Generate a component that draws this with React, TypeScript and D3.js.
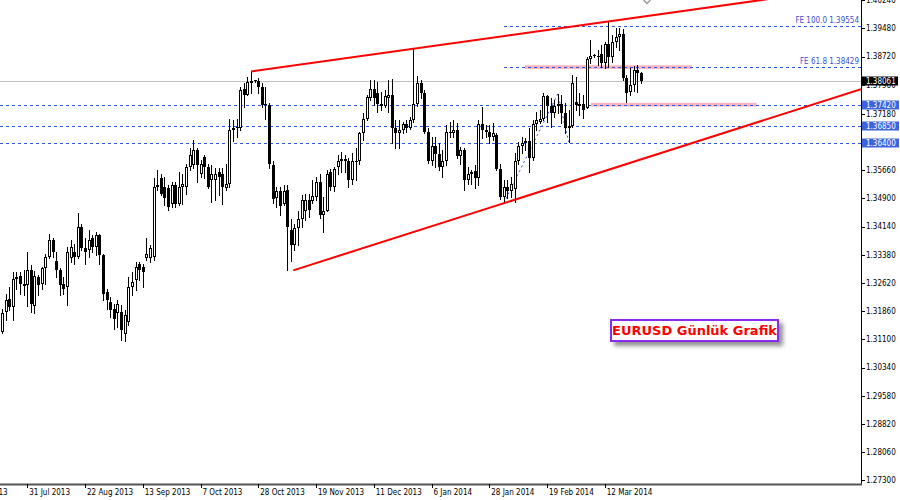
import React from 'react';
import * as d3 from 'd3';

// Daily EURUSD candles [open, high, low, close], bar 0 = 22 Jul 2013
const candles: [number, number, number, number][] = [
  [1.3130, 1.3193, 1.3126, 1.3180], [1.3184, 1.3233, 1.3162, 1.3215], [1.3220, 1.3251, 1.3188, 1.3197],
  [1.3197, 1.3292, 1.3162, 1.3274], [1.3274, 1.3292, 1.3247, 1.3278], [1.3280, 1.3292, 1.3233, 1.3259],
  [1.3258, 1.3296, 1.3229, 1.3255], [1.3257, 1.3345, 1.3200, 1.3297], [1.3297, 1.3310, 1.3185, 1.3205],
  [1.3200, 1.3295, 1.3180, 1.3282], [1.3278, 1.3283, 1.3229, 1.3256], [1.3260, 1.3305, 1.3247, 1.3301],
  [1.3301, 1.3341, 1.3260, 1.3332], [1.3332, 1.3395, 1.3328, 1.3377], [1.3378, 1.3382, 1.3332, 1.3345],
  [1.3322, 1.3345, 1.3278, 1.3297], [1.3298, 1.3301, 1.3229, 1.3256], [1.3260, 1.3278, 1.3233, 1.3247],
  [1.3251, 1.3359, 1.3202, 1.3346], [1.3328, 1.3377, 1.3319, 1.3359], [1.3346, 1.3368, 1.3314, 1.3332],
  [1.3332, 1.3451, 1.3328, 1.3413], [1.3413, 1.3422, 1.3350, 1.3355], [1.3355, 1.3382, 1.3314, 1.3346],
  [1.3350, 1.3404, 1.3332, 1.3377], [1.3382, 1.3391, 1.3346, 1.3359], [1.3359, 1.3400, 1.3337, 1.3391],
  [1.3391, 1.3395, 1.3314, 1.3337], [1.3337, 1.3341, 1.3215, 1.3233], [1.3238, 1.3247, 1.3193, 1.3215],
  [1.3211, 1.3224, 1.3171, 1.3188], [1.3193, 1.3206, 1.3139, 1.3166], [1.3180, 1.3215, 1.3144, 1.3206],
  [1.3184, 1.3202, 1.3108, 1.3135], [1.3125, 1.3190, 1.3105, 1.3175], [1.3157, 1.3278, 1.3148, 1.3251],
  [1.3251, 1.3292, 1.3229, 1.3265], [1.3269, 1.3319, 1.3242, 1.3305], [1.3314, 1.3319, 1.3269, 1.3296],
  [1.3305, 1.3314, 1.3251, 1.3292], [1.3330, 1.3382, 1.3323, 1.3340], [1.3330, 1.3364, 1.3319, 1.3355],
  [1.3333, 1.3544, 1.3323, 1.3521], [1.3521, 1.3566, 1.3512, 1.3526], [1.3546, 1.3557, 1.3499, 1.3503],
  [1.3521, 1.3548, 1.3472, 1.3490], [1.3517, 1.3526, 1.3458, 1.3467], [1.3476, 1.3535, 1.3467, 1.3526],
  [1.3526, 1.3535, 1.3467, 1.3476], [1.3476, 1.3562, 1.3472, 1.3521], [1.3521, 1.3557, 1.3476, 1.3530],
  [1.3521, 1.3584, 1.3503, 1.3575], [1.3575, 1.3625, 1.3566, 1.3607], [1.3580, 1.3647, 1.3571, 1.3620],
  [1.3620, 1.3625, 1.3535, 1.3580], [1.3557, 1.3593, 1.3548, 1.3584], [1.3602, 1.3607, 1.3544, 1.3575],
  [1.3575, 1.3584, 1.3517, 1.3521], [1.3539, 1.3580, 1.3481, 1.3557], [1.3539, 1.3571, 1.3485, 1.3555],
  [1.3562, 1.3571, 1.3499, 1.3548], [1.3557, 1.3571, 1.3476, 1.3521], [1.3517, 1.3584, 1.3512, 1.3530],
  [1.3530, 1.3705, 1.3520, 1.3675], [1.3675, 1.3700, 1.3645, 1.3680], [1.3683, 1.3705, 1.3655, 1.3680],
  [1.3680, 1.3791, 1.3674, 1.3782], [1.3785, 1.3800, 1.3737, 1.3770], [1.3770, 1.3818, 1.3769, 1.3805],
  [1.3800, 1.3832, 1.3775, 1.3806], [1.3808, 1.3810, 1.3804, 1.3806], [1.3806, 1.3814, 1.3773, 1.3791],
  [1.3790, 1.3800, 1.3737, 1.3742], [1.3745, 1.3790, 1.3705, 1.3742], [1.3742, 1.3746, 1.3571, 1.3583],
  [1.3580, 1.3590, 1.3477, 1.3487], [1.3490, 1.3521, 1.3467, 1.3510], [1.3510, 1.3521, 1.3445, 1.3470],
  [1.3475, 1.3526, 1.3472, 1.3510], [1.3512, 1.3525, 1.3296, 1.3413], [1.3405, 1.3435, 1.3320, 1.3365],
  [1.3365, 1.3420, 1.3350, 1.3410], [1.3410, 1.3455, 1.3365, 1.3435], [1.3435, 1.3499, 1.3413, 1.3485],
  [1.3455, 1.3503, 1.3431, 1.3485], [1.3485, 1.3503, 1.3440, 1.3460], [1.3483, 1.3539, 1.3477, 1.3497],
  [1.3495, 1.3548, 1.3485, 1.3535], [1.3535, 1.3557, 1.3436, 1.3445], [1.3445, 1.3495, 1.3400, 1.3455],
  [1.3455, 1.3566, 1.3455, 1.3555], [1.3560, 1.3570, 1.3512, 1.3520], [1.3520, 1.3575, 1.3510, 1.3570],
  [1.3575, 1.3607, 1.3557, 1.3590], [1.3590, 1.3616, 1.3562, 1.3595], [1.3595, 1.3607, 1.3562, 1.3590],
  [1.3590, 1.3600, 1.3521, 1.3540], [1.3540, 1.3611, 1.3530, 1.3590], [1.3590, 1.3625, 1.3540, 1.3590],
  [1.3590, 1.3670, 1.3584, 1.3665], [1.3665, 1.3719, 1.3647, 1.3705], [1.3705, 1.3769, 1.3701, 1.3762],
  [1.3760, 1.3809, 1.3755, 1.3785], [1.3785, 1.3809, 1.3742, 1.3760], [1.3775, 1.3805, 1.3724, 1.3745],
  [1.3745, 1.3778, 1.3728, 1.3740], [1.3740, 1.3782, 1.3737, 1.3765], [1.3760, 1.3809, 1.3724, 1.3770],
  [1.3770, 1.3811, 1.3640, 1.3680], [1.3680, 1.3700, 1.3625, 1.3665], [1.3665, 1.3700, 1.3625, 1.3675],
  [1.3675, 1.3697, 1.3665, 1.3690], [1.3690, 1.3701, 1.3670, 1.3680], [1.3680, 1.3710, 1.3678, 1.3700],
  [1.3700, 1.3893, 1.3695, 1.3745], [1.3745, 1.3820, 1.3740, 1.3800], [1.3800, 1.3810, 1.3760, 1.3775],
  [1.3775, 1.3783, 1.3665, 1.3670], [1.3670, 1.3680, 1.3585, 1.3590], [1.3590, 1.3656, 1.3580, 1.3630],
  [1.3630, 1.3656, 1.3575, 1.3610], [1.3610, 1.3638, 1.3566, 1.3575], [1.3575, 1.3620, 1.3548, 1.3590],
  [1.3590, 1.3688, 1.3580, 1.3670], [1.3670, 1.3697, 1.3656, 1.3665], [1.3665, 1.3701, 1.3656, 1.3675],
  [1.3675, 1.3692, 1.3598, 1.3605], [1.3605, 1.3629, 1.3584, 1.3620], [1.3620, 1.3625, 1.3513, 1.3540],
  [1.3540, 1.3575, 1.3530, 1.3555], [1.3555, 1.3566, 1.3530, 1.3560], [1.3565, 1.3580, 1.3517, 1.3545],
  [1.3545, 1.3701, 1.3526, 1.3690], [1.3690, 1.3737, 1.3652, 1.3675], [1.3675, 1.3688, 1.3656, 1.3670],
  [1.3670, 1.3688, 1.3638, 1.3655], [1.3655, 1.3692, 1.3647, 1.3665], [1.3660, 1.3665, 1.3566, 1.3570],
  [1.3570, 1.3584, 1.3488, 1.3495], [1.3495, 1.3540, 1.3477, 1.3520], [1.3520, 1.3539, 1.3490, 1.3510],
  [1.3510, 1.3548, 1.3494, 1.3530], [1.3515, 1.3611, 1.3481, 1.3590], [1.3590, 1.3643, 1.3584, 1.3630],
  [1.3630, 1.3656, 1.3611, 1.3640], [1.3640, 1.3652, 1.3620, 1.3645], [1.3645, 1.3679, 1.3562, 1.3600],
  [1.3600, 1.3701, 1.3593, 1.3690], [1.3690, 1.3724, 1.3674, 1.3700], [1.3695, 1.3728, 1.3692, 1.3705],
  [1.3705, 1.3773, 1.3701, 1.3765], [1.3765, 1.3769, 1.3697, 1.3738], [1.3738, 1.3760, 1.3683, 1.3720],
  [1.3720, 1.3755, 1.3710, 1.3740], [1.3740, 1.3772, 1.3719, 1.3745], [1.3745, 1.3770, 1.3692, 1.3720],
  [1.3720, 1.3746, 1.3665, 1.3680], [1.3680, 1.3728, 1.3642, 1.3685], [1.3685, 1.3823, 1.3683, 1.3800],
  [1.3750, 1.3818, 1.3728, 1.3742], [1.3742, 1.3773, 1.3715, 1.3745], [1.3745, 1.3770, 1.3706, 1.3728],
  [1.3735, 1.3872, 1.3733, 1.3865], [1.3865, 1.3917, 1.3854, 1.3875], [1.3876, 1.3880, 1.3870, 1.3874],
  [1.3875, 1.3890, 1.3850, 1.3870], [1.3880, 1.3904, 1.3845, 1.3855], [1.3855, 1.3912, 1.3841, 1.3905],
  [1.3905, 1.3965, 1.3845, 1.3870], [1.3870, 1.3930, 1.3858, 1.3912], [1.3912, 1.3950, 1.3898, 1.3925],
  [1.3925, 1.3950, 1.3890, 1.3932], [1.3932, 1.3946, 1.3808, 1.3815], [1.3815, 1.3823, 1.3749, 1.3775],
  [1.3778, 1.3841, 1.3768, 1.3795], [1.3795, 1.3848, 1.3780, 1.3835], [1.3835, 1.3850, 1.3778, 1.3827],
  [1.3827, 1.3832, 1.3800, 1.3806],
];

const dateTickBars = [-9, 7, 23, 39, 55, 71, 87, 103, 119, 135, 151, 167];
const dateTickLabels = ['9 Jul 2013', '31 Jul 2013', '22 Aug 2013', '13 Sep 2013', '7 Oct 2013', '28 Oct 2013',
  '19 Nov 2013', '11 Dec 2013', '6 Jan 2014', '28 Jan 2014', '19 Feb 2014', '12 Mar 2014'];

const priceTicks = [1.4024, 1.3948, 1.3872, 1.3796, 1.3718, 1.364, 1.3566, 1.349, 1.3414, 1.3338, 1.3262,
  1.3186, 1.311, 1.3034, 1.2958, 1.2882, 1.2806, 1.273];

const bidPrice = 1.38061;
const levelPrices = [1.3742, 1.3685, 1.364];
const fibNames = ['FE 100.0', 'FE 61.8'];
const fibValues = [1.39554, 1.38429];
const fibStartBar = 139;
const fePathBars = [139, 154, 157];
const fePathPrices = [1.3477, 1.3772, 1.3642];
const zoneBars: [number, number][] = [[144.9, 191.1], [163.2, 209.1]];
const zonePrices: [number, number][] = [[1.3849, 1.3839], [1.37475, 1.37375]];
const trendBars: [number, number][] = [[69, 168], [80.7, 139]];
const trendPrices: [number, number][] = [[1.3832, 1.3967], [1.3296, 1.3477]];
const titleText = 'EURUSD Günlük Grafik';

const W = 900;
const H = 500;
const plotRight = 861;
const plotBottom = 484;
const FONT = "'DejaVu Sans Condensed', 'DejaVu Sans', sans-serif";

export default function App() {
  const x = d3.scaleLinear().domain([0, 238]).range([2, plotRight]);
  const y = d3.scaleLinear().domain([1.273, 1.4024]).range([480.3, 0.3]);
  const fmt = d3.format('.5f');
  const lineGen = d3.line<[number, number]>().x(d => x(d[0])).y(d => y(d[1]));

  const trendPaths = trendBars.map((b, i) => {
    const p = trendPrices[i];
    const slope = (p[1] - p[0]) / (b[1] - b[0]);
    const endBar = 238;
    return lineGen([[b[0], p[0]], [endBar, p[0] + slope * (endBar - b[0])]]);
  });

  const blue = '#2f55e3';

  return (
    <svg width={W} height={H} style={{ position: 'absolute', left: 0, top: 0, background: '#fff' }}
      fontFamily={FONT}>
      <defs>
        <clipPath id="plot"><rect x={0} y={0} width={plotRight} height={plotBottom} /></clipPath>
        <filter id="shadow" x="-10%" y="-30%" width="130%" height="190%">
          <feDropShadow dx={4} dy={4} stdDeviation={2} floodColor="#777" floodOpacity={0.8} />
        </filter>
      </defs>
      <rect x={0} y={0} width={W} height={H} fill="#fff" />
      <g clipPath="url(#plot)">
        {/* bid line */}
        <line x1={0} x2={plotRight} y1={Math.round(y(bidPrice)) + 0.5} y2={Math.round(y(bidPrice)) + 0.5}
          stroke="#c0c0c0" strokeWidth={1} />
        {/* pink zones */}
        {zoneBars.map((b, i) => (
          <rect key={'z' + i} x={x(b[0])} width={x(b[1]) - x(b[0])} y={y(zonePrices[i][0])}
            height={y(zonePrices[i][1]) - y(zonePrices[i][0])} fill="#f9b4bd" />
        ))}
        {/* horizontal dotted levels */}
        {levelPrices.map((p, i) => (
          <line key={'l' + i} x1={0} x2={plotRight} y1={Math.round(y(p)) + 0.5} y2={Math.round(y(p)) + 0.5}
            stroke={blue} strokeDasharray="3,3" />
        ))}
        {fibValues.map((p, i) => (
          <line key={'f' + i} x1={Math.round(x(fibStartBar))} x2={plotRight} y1={Math.round(y(p)) + 0.5}
            y2={Math.round(y(p)) + 0.5} stroke={blue} strokeDasharray="3,3" />
        ))}
        <path d={lineGen(fePathBars.map((b, i) => [b, fePathPrices[i]] as [number, number])) || ''}
          fill="none" stroke={blue} strokeDasharray="2,3" />
        {/* candles */}
        {candles.map((c, i) => {
          const [o, h, l, cl] = c;
          const cx = Math.round(x(i));
          const yo = Math.round(y(o));
          const yc = Math.round(y(cl));
          const top = Math.min(yo, yc);
          const bh = Math.max(1, Math.abs(yo - yc));
          const bull = cl > o;
          return (
            <g key={'c' + i}>
              <line x1={cx + 0.5} x2={cx + 0.5} y1={Math.round(y(h))} y2={Math.round(y(l)) + 1} stroke="#000" />
              {bull ? (
                <rect x={cx - 0.5} y={top + 0.5} width={2} height={Math.max(1, bh - 1)} fill="#fff" stroke="#000" />
              ) : (
                <rect x={cx - 1} y={top} width={3} height={bh} fill="#000" />
              )}
            </g>
          );
        })}
        {/* trend lines */}
        {trendPaths.map((d, i) => (
          <path key={'t' + i} d={d || ''} stroke="#ff0000" strokeWidth={2} fill="none" />
        ))}
        <path d="M643.5,0 L647,3.5 L650.5,0" stroke="#9a9a9a" fill="none" strokeWidth={1.5} />
        {/* fib labels */}
        {fibValues.map((p, i) => (
          <text key={'ft' + i} x={859} y={y(p) - 3} textAnchor="end" fontSize={8} fill="#3a50d8">
            {fibNames[i] + ' ' + fmt(p)}
          </text>
        ))}
      </g>

      {/* axes */}
      <line x1={plotRight + 0.5} x2={plotRight + 0.5} y1={0} y2={plotBottom + 1} stroke="#000" />
      <line x1={0} x2={plotRight + 1} y1={plotBottom + 0.5} y2={plotBottom + 0.5} stroke="#555" strokeWidth={2} />

      {priceTicks.map((p, i) => (
        <g key={'pt' + i}>
          <line x1={plotRight} x2={plotRight + 4} y1={Math.round(y(p)) + 0.5} y2={Math.round(y(p)) + 0.5} stroke="#000" />
          <text x={866} y={y(p)} dy="0.35em" fontSize={8} fill="#000">{fmt(p)}</text>
        </g>
      ))}

      {/* level price boxes */}
      {levelPrices.map((p, i) => (
        <g key={'lb' + i}>
          <rect x={862} y={Math.round(y(p)) - 4.5} width={37} height={9} fill="#3c64dc" />
          <text x={866} y={y(p)} dy="0.35em" fontSize={8} fill="#fff">{fmt(p)}</text>
        </g>
      ))}
      <rect x={862} y={Math.round(y(bidPrice)) - 4.5} width={36} height={9} fill="#000" />
      <text x={866} y={y(bidPrice)} dy="0.35em" fontSize={8} fill="#fff">{fmt(bidPrice)}</text>

      {dateTickBars.map((b, i) => (
        <g key={'dt' + i}>
          <line x1={Math.round(x(b)) + 0.5} x2={Math.round(x(b)) + 0.5} y1={plotBottom} y2={plotBottom + 4} stroke="#000" />
          <text x={x(b) + 2} y={495} fontSize={8} fill="#000">{dateTickLabels[i]}</text>
        </g>
      ))}

      {/* title box */}
      <g>
        <rect x={611} y={320} width={167} height={21} fill="#fff" stroke="#8a2cf0" strokeWidth={2} filter="url(#shadow)" />
        <text x={694.5} y={335} textAnchor="middle" fontSize={13} fontWeight="bold" fill="#ff0000"
          fontFamily="'DejaVu Sans', sans-serif">{titleText}</text>
      </g>
    </svg>
  );
}
